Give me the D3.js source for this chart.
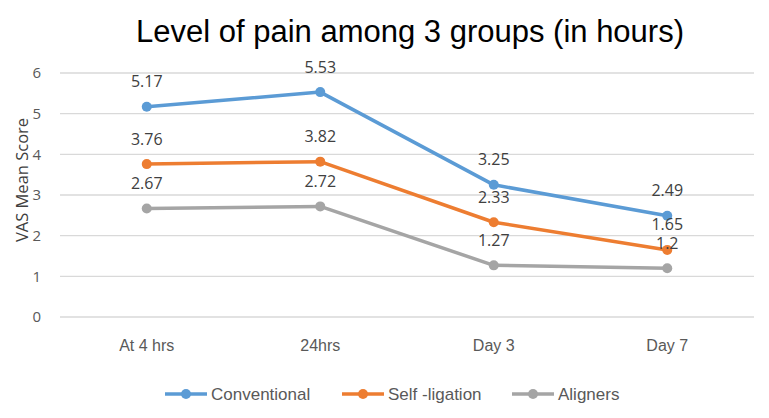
<!DOCTYPE html>
<html><head><meta charset="utf-8">
<script src="https://cdn.jsdelivr.net/npm/d3@7"></script>
<style>body{margin:0;background:#fff}svg{display:block}</style>
</head><body>
<script>
const categories = ["At 4 hrs", "24hrs", "Day 3", "Day 7"];
const seriesNames = ["Conventional", "Self -ligation", "Aligners"];
const conventional = [5.17, 5.53, 3.25, 2.49];
const selfLigation = [3.76, 3.82, 2.33, 1.65];
const aligners = [2.67, 2.72, 1.27, 1.2];
const yTicks = [0, 1, 2, 3, 4, 5, 6];
const colors = ["#5B9BD5", "#ED7D31", "#A5A5A5"];
const seriesValues = [conventional, selfLigation, aligners];

const W = 769, H = 418;
const svg = d3.select("body").append("svg").attr("width", W).attr("height", H);
const x = d3.scaleBand().domain(categories).range([60, 754]);
const y = d3.scaleLinear().domain([0, 6]).range([317, 73]);

svg.append("text").attr("x", 410).attr("y", 42).attr("text-anchor", "middle")
  .style("font-family", "Liberation Sans, Arial, sans-serif").style("font-size", "31px")
  .attr("fill", "#000").text("Level of pain among 3 groups (in hours)");

// gridlines
svg.append("g").selectAll("line").data(yTicks).join("line")
  .attr("x1", 60).attr("x2", 754).attr("y1", d => y(d)).attr("y2", d => y(d))
  .attr("stroke", "#d9d9d9").attr("stroke-width", 1.3);

// y axis
const yAxis = svg.append("g").attr("transform", "translate(60,0)")
  .call(d3.axisLeft(y).tickValues(yTicks).tickFormat(d3.format("d")).tickSize(0).tickPadding(19));
yAxis.select(".domain").remove();
yAxis.selectAll("text").attr("fill", "#595959")
  .style("font-family", "Open Sans, sans-serif").style("font-size", "15px");

svg.append("text").attr("transform", "translate(28,180) rotate(-90)")
  .attr("text-anchor", "middle").attr("fill", "#404040")
  .style("font-family", "Open Sans, sans-serif").style("font-size", "16.5px")
  .text("VAS Mean Score");

// x axis
const xAxis = svg.append("g").attr("transform", "translate(0,317)")
  .call(d3.axisBottom(x).tickSize(0).tickPadding(23));
xAxis.select(".domain").remove();
xAxis.selectAll("text").attr("fill", "#595959")
  .style("font-family", "Liberation Sans Narrow, Arial Narrow, sans-serif").style("font-size", "16px");

const line = d3.line().x((d, i) => x(categories[i]) + x.bandwidth() / 2).y(d => y(d));
seriesValues.forEach((vals, s) => {
  const g = svg.append("g");
  g.append("path").datum(vals).attr("d", line).attr("fill", "none")
    .attr("stroke", colors[s]).attr("stroke-width", 3.5).attr("stroke-linejoin", "round");
  g.selectAll("circle").data(vals).join("circle")
    .attr("cx", (d, i) => x(categories[i]) + x.bandwidth() / 2).attr("cy", d => y(d))
    .attr("r", 5).attr("fill", colors[s]);
});
seriesValues.forEach((vals, s) => {
  svg.append("g").selectAll("text").data(vals).join("text")
    .attr("x", (d, i) => x(categories[i]) + x.bandwidth() / 2).attr("y", d => y(d) - 19.5)
    .attr("text-anchor", "middle").attr("fill", "#404040")
    .style("font-family", "Open Sans, sans-serif").style("font-size", "16px")
    .text(d => d);
});

// legend
const legX = [165, 342, 512];
const leg = svg.append("g");
seriesNames.forEach((n, i) => {
  const g = leg.append("g").attr("transform", `translate(${legX[i]},394)`);
  g.append("line").attr("x1", 0).attr("x2", 42).attr("stroke", colors[i]).attr("stroke-width", 3.5);
  g.append("circle").attr("cx", 21).attr("r", 5).attr("fill", colors[i]);
  g.append("text").attr("x", 46).attr("y", 6).attr("fill", "#595959")
    .style("font-family", "Liberation Sans Narrow, Arial Narrow, sans-serif").style("font-size", "17px")
    .text(n);
});
</script>
</body></html>
